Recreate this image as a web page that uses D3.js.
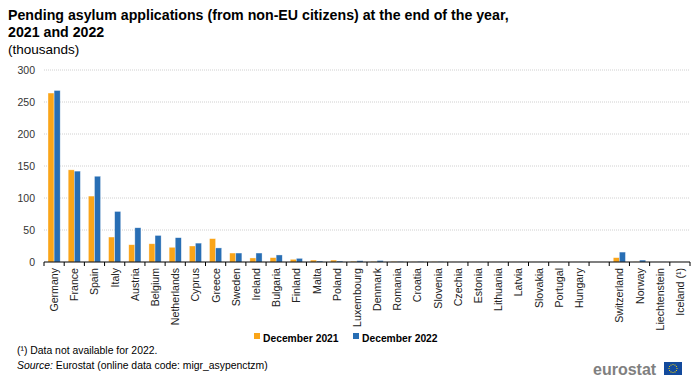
<!DOCTYPE html>
<html>
<head>
<meta charset="utf-8">
<script src="https://cdn.jsdelivr.net/npm/d3@7"></script>
<style>
body { margin: 0; background: #fff; }
svg { font-family: Arial, "Liberation Sans", sans-serif; }
</style>
</head>
<body>
<svg width="700" height="383"></svg>
<script>
// countries in chart order, "" is the gap between EU and EFTA
var countries = ["Germany", "France", "Spain", "Italy", "Austria", "Belgium", "Netherlands", "Cyprus",
	"Greece", "Sweden", "Ireland", "Bulgaria", "Finland", "Malta", "Poland", "Luxembourg", "Denmark",
	"Romania", "Croatia", "Slovenia", "Czechia", "Estonia", "Lithuania", "Latvia", "Slovakia", "Portugal",
	"Hungary", "", "Switzerland", "Norway", "Liechtenstein", "Iceland (\u00b9)"];

// thousands, December 2021
var dec2021 = [264, 144, 103, 39, 27, 28.5, 23, 25, 36.5, 14, 6.3, 6.8, 4.2, 3, 3, 1.2, 0.8,
	0.8, 0.2, 0.5, 0.1, 0.1, 0.1, 0.1, 0.1, 0.1, 0.1, null, 6.8, 0.3, 0.1, 0.1];
// thousands, December 2022
var dec2022 = [268, 142, 134, 79, 53.5, 41.5, 38, 29.5, 22, 14, 14, 11, 5.7, 1.5, 1.5, 2, 2.3,
	0.8, 0.8, 0.6, 0.1, 0.1, 0.1, 0.1, 0.1, 0.1, 0.1, null, 15.5, 3, 0.1, null];

var yTicks = [0, 50, 100, 150, 200, 250, 300];
var seriesNames = ["December 2021", "December 2022"];
var colors = ["#faa519", "#286eb4"];

var svg = d3.select("svg"),
	margin = { top: 70, right: 10, bottom: 121, left: 44 },
	width = +svg.attr("width") - margin.left - margin.right,
	height = +svg.attr("height") - margin.top - margin.bottom;

// titles
svg.append("text").attr("x", 8).attr("y", 20).attr("font-size", 14.2).attr("font-weight", "bold")
	.text("Pending asylum applications (from non-EU citizens) at the end of the year,");
svg.append("text").attr("x", 8).attr("y", 37).attr("font-size", 14.2).attr("font-weight", "bold")
	.text("2021 and 2022");
svg.append("text").attr("x", 8).attr("y", 54).attr("font-size", 13.5).text("(thousands)");

var x = d3.scaleBand().domain(d3.range(countries.length)).range([0, width]);
var x1 = d3.scaleBand().domain([0, 1]).range([4, x.bandwidth() - 4]);
var y = d3.scaleLinear().domain([0, 300]).range([height, 0]);

var g = svg.append("g").attr("transform", "translate(" + margin.left + "," + margin.top + ")");

// grid lines
g.selectAll(".grid").data(yTicks.slice(1)).enter().append("line")
	.attr("x1", 0).attr("x2", width)
	.attr("y1", function(d) { return y(d); }).attr("y2", function(d) { return y(d); })
	.attr("stroke", "#d0d0d0").attr("stroke-dasharray", "1,1");

// y axis labels
g.append("g").call(d3.axisLeft(y).tickValues(yTicks).tickSize(0).tickPadding(9))
	.call(function(a) { a.select(".domain").remove(); })
	.selectAll("text").attr("font-size", 10.5).attr("font-family", "Arial, 'Liberation Sans', sans-serif").attr("fill", "#333");

// bars
var series = [dec2021, dec2022];
series.forEach(function(vals, s) {
	g.selectAll(".bar" + s).data(vals.map(function(v, i) { return { i: i, v: v }; })
			.filter(function(d) { return d.v != null; }))
		.enter().append("rect")
		.attr("x", function(d) { return x(d.i) + x1(s); })
		.attr("width", x1.bandwidth())
		.attr("y", function(d) { return y(d.v); })
		.attr("height", function(d) { return height - y(d.v); })
		.attr("fill", colors[s])
		.attr("stroke", "#ffffff").attr("stroke-opacity", 0.6).attr("stroke-width", 0.6);
});

// x axis
var xa = g.append("g").attr("transform", "translate(0," + height + ")");
xa.append("line").attr("x1", 0).attr("x2", width).attr("stroke", "#000").attr("stroke-width", 1.2);
xa.selectAll(".tk").data(d3.range(countries.length + 1)).enter().append("line")
	.attr("x1", function(i) { return i * x.step(); }).attr("x2", function(i) { return i * x.step(); })
	.attr("y1", 0).attr("y2", 4).attr("stroke", "#000");
xa.selectAll(".lbl").data(countries).enter().append("text")
	.attr("transform", function(d, i) { return "translate(" + (x(i) + x.bandwidth() / 2 + 4) + ",6) rotate(-90)"; })
	.attr("text-anchor", "end").attr("font-size", 10.6).attr("fill", "#222").text(function(d) { return d; });

// legend
var lg = svg.append("g").attr("transform", "translate(254,337)");
seriesNames.forEach(function(n, s) {
	var ox = s * 99;
	lg.append("rect").attr("x", ox).attr("y", -4).attr("width", 6).attr("height", 6).attr("fill", colors[s]);
	lg.append("text").attr("x", ox + 9).attr("y", 2).attr("font-size", 10.3).attr("font-weight", "bold")
		.attr("dominant-baseline", "middle").text(n);
});

// footnotes
svg.append("text").attr("x", 17).attr("y", 354).attr("font-size", 10.4).text("(\u00b9) Data not available for 2022.");
var src = svg.append("text").attr("x", 17).attr("y", 369).attr("font-size", 10.4);
src.append("tspan").attr("font-style", "italic").text("Source:");
src.append("tspan").text(" Eurostat (online data code: migr_asypenctzm)");

// eurostat logo
svg.append("text").attr("x", 593).attr("y", 375).attr("font-size", 16).attr("font-weight", "bold")
	.attr("fill", "#808080").text("eurostat");
svg.append("rect").attr("x", 664).attr("y", 362).attr("width", 18).attr("height", 13).attr("fill", "#134a9c");
svg.append("g").selectAll("circle").data(d3.range(12)).enter().append("circle")
	.attr("cx", function(i) { return 673 + 4 * Math.cos(i * Math.PI / 6); })
	.attr("cy", function(i) { return 368.5 + 4 * Math.sin(i * Math.PI / 6); })
	.attr("r", 0.6).attr("fill", "#ffdd00");
</script>
</body>
</html>
